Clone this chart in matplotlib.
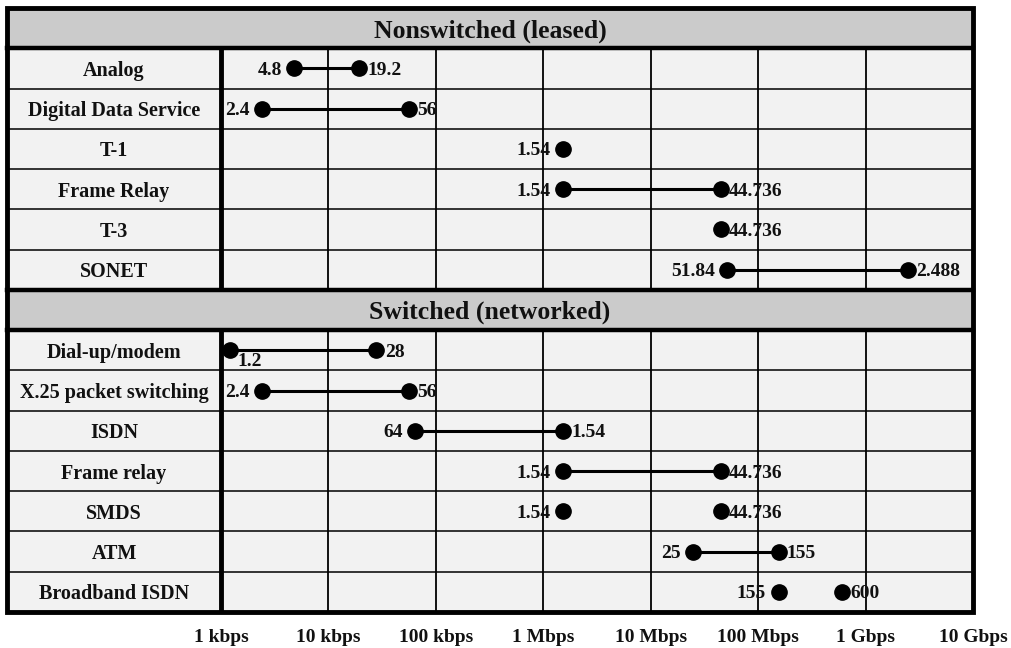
import matplotlib.pyplot as plt
from matplotlib.patches import Rectangle
from matplotlib.transforms import blended_transform_factory

plt.rcParams['font.family'] = ['Liberation Serif', 'DejaVu Serif']
plt.rcParams['font.weight'] = 'bold'

# section headers and rows (rates in kbps)
sections = ["Nonswitched (leased)", "Switched (networked)"]
row_names = ["Analog", "Digital Data Service", "T-1", "Frame Relay", "T-3", "SONET",
             "Dial-up/modem", "X.25 packet switching", "ISDN", "Frame relay", "SMDS",
             "ATM", "Broadband ISDN"]
row_section = [0, 0, 0, 0, 0, 0, 1, 1, 1, 1, 1, 1, 1]
low_kbps = [4.8, 2.4, 1540, 1540, None, 51840, 1.2, 2.4, 64, 1540, 1540, 25000, 155000]
high_kbps = [19.2, 56, None, 44736, 44736, 2488000, 28, 56, 1540, 44736, 44736, 155000, 600000]
low_text = ["4.8", "2.4", "1.54", "1.54", "", "51.84", "1.2", "2.4", "64", "1.54", "1.54", "25", "155"]
high_text = ["19.2", "56", "", "44.736", "44.736", "2.488", "28", "56", "1.54", "44.736", "44.736", "155", "600"]
joined = [True, True, False, True, False, True, True, True, True, True, False, True, False]

tick_vals = [1, 10, 100, 1e3, 1e4, 1e5, 1e6, 1e7]
tick_text = ["1 kbps", "10 kbps", "100 kbps", "1 Mbps", "10 Mbps", "100 Mbps", "1 Gbps", "10 Gbps"]

fig = plt.figure(figsize=(10.12, 6.48), dpi=100)
ax = fig.add_axes([221 / 1012, 36 / 648, 752 / 1012, 604 / 648])
ax.set_xscale('log')
ax.set_xlim(1, 1e7)
ax.set_ylim(15, 0)
ax.set_facecolor('#f2f2f2')
for s in ax.spines.values():
    s.set_visible(False)

lab_w = 214 / 752  # label column width in axes fraction
tr = blended_transform_factory(ax.transAxes, ax.transData)

# label column background
ax.add_patch(Rectangle((-lab_w, 0), lab_w, 15, transform=tr, facecolor='#f2f2f2',
                       edgecolor='none', clip_on=False, zorder=0))

# header rows
n_lease = row_section.count(0)
header_y = [0, n_lease + 1]
for hy, title in zip(header_y, sections):
    ax.add_patch(Rectangle((-lab_w, hy), 1 + lab_w, 1, transform=tr, facecolor='#cbcbcb',
                           edgecolor='none', clip_on=False, zorder=1))
    ax.text((1 - lab_w) / 2, hy + 0.5, title, transform=tr, ha='center', va='center_baseline',
            fontsize=18.5, color='#111111', zorder=5)

# row y positions
row_y = []
for i, sec in enumerate(row_section):
    row_y.append(i + 1 + sec)

# horizontal lines
for b in range(1, 15):
    thick = b in (1, header_y[1], header_y[1] + 1)
    ax.plot([-lab_w, 1], [b, b], transform=tr, clip_on=False,
            color='black' if thick else '#333333', lw=3.2 if thick else 1.4, zorder=2)

# vertical grid lines, stop at headers
spans = [(1, header_y[1]), (header_y[1] + 1, 15)]
for y0, y1 in spans:
    ax.vlines(tick_vals[1:-1], y0, y1, color='black', lw=1.3, zorder=2)
    ax.vlines([1], y0, y1, color='black', lw=3.5, zorder=3, clip_on=False)

# outer border
ax.add_patch(Rectangle((-lab_w, 0), 1 + lab_w, 15, transform=tr, facecolor='none',
                       edgecolor='black', lw=3.5, clip_on=False, zorder=6))

# rows
for i, name in enumerate(row_names):
    y = row_y[i] + 0.5
    ax.text(-lab_w / 2, y, name, transform=tr, ha='center', va='center_baseline',
            fontsize=14.5, color='#111111', zorder=5)
    lo, hi = low_kbps[i], high_kbps[i]
    if joined[i]:
        ax.plot([lo, hi], [y, y], color='black', lw=2.2, zorder=4)
    for v in (lo, hi):
        if v is not None:
            ax.plot([v], [y], 'o', color='black', ms=11, zorder=4, clip_on=False)
    if lo is not None and low_text[i]:
        if name == "Dial-up/modem":
            ax.annotate(low_text[i], (lo, y), xytext=(6, -2), textcoords='offset points',
                        ha='left', va='top', fontsize=14, color='#111111', zorder=5)
        else:
            ax.annotate(low_text[i], (lo, y), xytext=(-9, 0), textcoords='offset points',
                        ha='right', va='center_baseline', fontsize=14, color='#111111', zorder=5)
    if hi is not None and high_text[i]:
        ax.annotate(high_text[i], (hi, y), xytext=(6, 0), textcoords='offset points',
                    ha='left', va='center_baseline', fontsize=14, color='#111111', zorder=5)

ax.set_xticks(tick_vals)
ax.set_xticklabels(tick_text, fontsize=14, color='#111111')
ax.xaxis.set_minor_locator(plt.NullLocator())
ax.tick_params(axis='x', length=0, pad=12)
ax.set_yticks([])

fig.savefig('out.png', dpi=100)
